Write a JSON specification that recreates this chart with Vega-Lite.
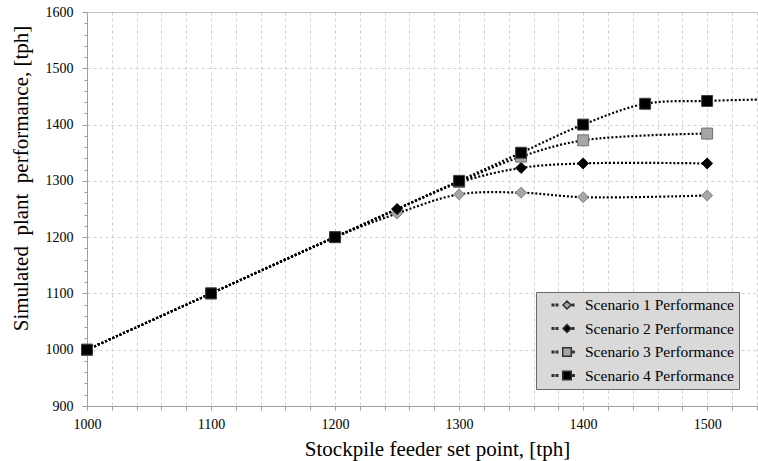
{
  "$schema": "https://vega.github.io/schema/vega-lite/v6.json",
  "width": 671,
  "height": 394,
  "autosize": "none",
  "padding": {"left": 87, "top": 12, "right": 0, "bottom": 55},
  "background": "white",
  "config": {
    "view": {"stroke": null},
    "font": "Liberation Serif, Times New Roman, serif",
    "legend": {"labelFont": "Liberation Serif, Times New Roman, serif", "titleFont": "Liberation Serif, Times New Roman, serif"},
    "axis": {
      "labelFont": "Liberation Serif, Times New Roman, serif",
      "labelFontSize": 14,
      "labelColor": "#000",
      "titleFont": "Liberation Serif, Times New Roman, serif",
      "titleFontSize": 21,
      "titleFontWeight": "normal",
      "titleColor": "#000",
      "domainColor": "#a0a0a0",
      "tickColor": "#a0a0a0",
      "labelOverlap": false,
      "labelFlush": false,
      "labelBound": false
    }
  },
  "data": {
    "values": [
      {"series": "Scenario 1 Performance", "x": 1000, "y": 1000},
      {"series": "Scenario 1 Performance", "x": 1100, "y": 1100},
      {"series": "Scenario 1 Performance", "x": 1200, "y": 1200},
      {"series": "Scenario 1 Performance", "x": 1250, "y": 1242},
      {"series": "Scenario 1 Performance", "x": 1300, "y": 1276},
      {"series": "Scenario 1 Performance", "x": 1350, "y": 1279},
      {"series": "Scenario 1 Performance", "x": 1400, "y": 1271},
      {"series": "Scenario 1 Performance", "x": 1500, "y": 1274},
      {"series": "Scenario 2 Performance", "x": 1000, "y": 1000},
      {"series": "Scenario 2 Performance", "x": 1100, "y": 1100},
      {"series": "Scenario 2 Performance", "x": 1200, "y": 1200},
      {"series": "Scenario 2 Performance", "x": 1250, "y": 1250},
      {"series": "Scenario 2 Performance", "x": 1300, "y": 1297},
      {"series": "Scenario 2 Performance", "x": 1350, "y": 1323},
      {"series": "Scenario 2 Performance", "x": 1400, "y": 1331},
      {"series": "Scenario 2 Performance", "x": 1500, "y": 1331},
      {"series": "Scenario 3 Performance", "x": 1000, "y": 1000},
      {"series": "Scenario 3 Performance", "x": 1100, "y": 1100},
      {"series": "Scenario 3 Performance", "x": 1200, "y": 1200},
      {"series": "Scenario 3 Performance", "x": 1300, "y": 1298},
      {"series": "Scenario 3 Performance", "x": 1350, "y": 1343},
      {"series": "Scenario 3 Performance", "x": 1400, "y": 1372},
      {"series": "Scenario 3 Performance", "x": 1500, "y": 1384},
      {"series": "Scenario 4 Performance", "x": 1000, "y": 1000},
      {"series": "Scenario 4 Performance", "x": 1100, "y": 1100},
      {"series": "Scenario 4 Performance", "x": 1200, "y": 1200},
      {"series": "Scenario 4 Performance", "x": 1300, "y": 1300},
      {"series": "Scenario 4 Performance", "x": 1350, "y": 1350},
      {"series": "Scenario 4 Performance", "x": 1400, "y": 1400},
      {"series": "Scenario 4 Performance", "x": 1450, "y": 1437},
      {"series": "Scenario 4 Performance", "x": 1500, "y": 1442},
      {"series": "Scenario 4 Performance", "x": 1550, "y": 1445}
    ]
  },
  "encoding": {
    "x": {
      "field": "x",
      "type": "quantitative",
      "scale": {"domain": [1000, 1541], "nice": false, "zero": false},
      "axis": {
        "title": "Stockpile feeder set point, [tph]",
        "titleX": 350,
        "titleY": 49,
        "titleBaseline": "alphabetic",
        "values": [1000,1020,1040,1060,1080,1100,1120,1140,1160,1180,1200,1220,1240,1260,1280,1300,1320,1340,1360,1380,1400,1420,1440,1460,1480,1500,1520,1540],
        "format": "d",
        "labelExpr": "datum.value % 100 === 0 ? datum.label : ''",
        "labelPadding": 7,
        "tickSize": 4,
        "grid": true,
        "gridColor": "#d2d2d2",
        "gridDash": [3, 3],
        "gridWidth": 1
      }
    },
    "y": {
      "field": "y",
      "type": "quantitative",
      "scale": {"domain": [900, 1600], "nice": false, "zero": false},
      "axis": {
        "title": "Simulated\u00a0 plant\u00a0 performance, [tph]",
        "titleX": -60,
        "titleY": 166,
        "titleBaseline": "alphabetic",
        "values": [900,920,940,960,980,1000,1020,1040,1060,1080,1100,1120,1140,1160,1180,1200,1220,1240,1260,1280,1300,1320,1340,1360,1380,1400,1420,1440,1460,1480,1500,1520,1540,1560,1580,1600],
        "format": "d",
        "labelExpr": "datum.value % 100 === 0 ? datum.label : ''",
        "labelPadding": 9,
        "tickSize": {"condition": {"test": "datum.value % 100 === 0", "value": 5}, "value": 3},
        "grid": true,
        "gridColor": {"condition": {"test": "datum.value === 1600", "value": "#c0c0c0"}, "value": "#d2d2d2"},
        "gridOpacity": {"condition": {"test": "datum.value % 100 === 0", "value": 1}, "value": 0},
        "gridDash": {"condition": {"test": "datum.value === 1600", "value": []}, "value": [3, 3]},
        "gridWidth": 1
      }
    }
  },
  "layer": [
    {
      "mark": {"type": "line", "interpolate": "catmull-rom", "color": "#000", "strokeWidth": 2.2, "strokeDash": [2, 2], "strokeCap": "butt", "clip": true},
      "encoding": {"detail": {"field": "series", "type": "nominal"}}
    },
    {
      "mark": {"type": "point", "filled": true, "size": 120, "opacity": 1, "strokeWidth": 1, "clip": false},
      "encoding": {
        "shape": {"field": "series", "type": "nominal", "legend": null,
          "scale": {"domain": ["Scenario 1 Performance", "Scenario 2 Performance", "Scenario 3 Performance", "Scenario 4 Performance"], "range": ["diamond", "diamond", "square", "square"]}},
        "fill": {"field": "series", "type": "nominal", "legend": null,
          "scale": {"domain": ["Scenario 1 Performance", "Scenario 2 Performance", "Scenario 3 Performance", "Scenario 4 Performance"], "range": ["#a6a6a6", "#000000", "#a6a6a6", "#000000"]}},
        "stroke": {"field": "series", "type": "nominal", "legend": null,
          "scale": {"domain": ["Scenario 1 Performance", "Scenario 2 Performance", "Scenario 3 Performance", "Scenario 4 Performance"], "range": ["#808080", "#000000", "#707070", "#404040"]}}
      }
    },
    {
      "mark": {"type": "point", "filled": true, "size": 196, "opacity": 0, "stroke": "#303030", "strokeWidth": 0.8, "clip": true},
      "encoding": {
        "shape": {"field": "series", "type": "nominal", "title": null,
          "scale": {"domain": ["Scenario 1 Performance", "Scenario 2 Performance", "Scenario 3 Performance", "Scenario 4 Performance"],
            "range": [
              "M-2.11,-0.11h0.22v0.22h-0.22Z M-1.54,-0.11h0.22v0.22h-0.22Z M0.75,-0.11h0.22v0.22h-0.22Z M0,-0.57L0.57,0L0,0.57L-0.57,0Z",
              "M-2.11,-0.11h0.22v0.22h-0.22Z M-1.54,-0.11h0.22v0.22h-0.22Z M0.75,-0.11h0.22v0.22h-0.22Z M0,-0.57L0.57,0L0,0.57L-0.57,0Z",
              "M-2.11,-0.11h0.22v0.22h-0.22Z M-1.54,-0.11h0.22v0.22h-0.22Z M0.8,-0.11h0.22v0.22h-0.22Z M-0.61,-0.61h1.22v1.22h-1.22Z",
              "M-2.11,-0.11h0.22v0.22h-0.22Z M-1.54,-0.11h0.22v0.22h-0.22Z M0.8,-0.11h0.22v0.22h-0.22Z M-0.61,-0.61h1.22v1.22h-1.22Z"
            ]},
          "legend": {
            "orient": "none",
            "legendX": 449,
            "legendY": 280,
            "padding": 5,
            "fillColor": "#d9d9d9",
            "strokeColor": "#6a6a6a",
            "symbolSize": 196,
            "symbolOpacity": 1,
            "symbolOffset": 18,
            "labelOffset": 10,
            "labelFontSize": 15.5,
            "labelColor": "#000",
            "labelLimit": 300,
            "labelExpr": "datum.label + '\u00a0\u00a0\u00a0\u00a0\u00a0'",
            "rowPadding": 6.5
          }
        },
        "fill": {"field": "series", "type": "nominal", "title": null,
          "scale": {"domain": ["Scenario 1 Performance", "Scenario 2 Performance", "Scenario 3 Performance", "Scenario 4 Performance"], "range": ["#a6a6a6", "#000000", "#a6a6a6", "#000000"]}}
      }
    }
  ],
  "resolve": {"scale": {"shape": "independent", "fill": "independent"}}
}
